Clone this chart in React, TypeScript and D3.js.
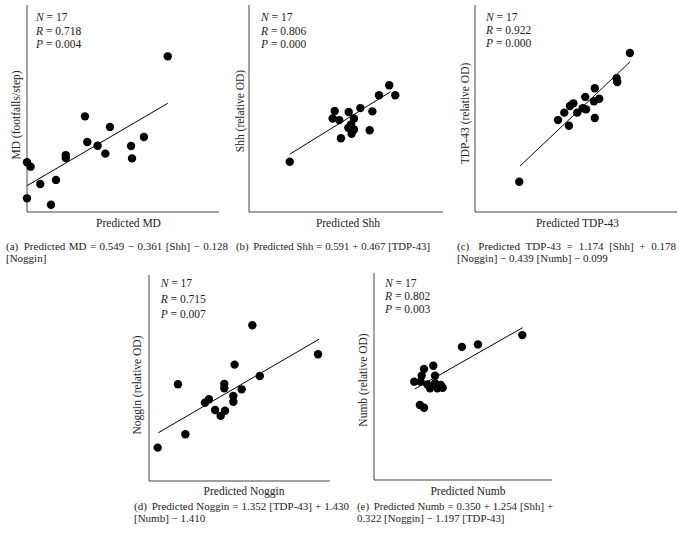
import React, { useEffect, useRef } from "react";
import * as d3 from "d3";

const W = 679;
const H = 538;
const FONT = "'Liberation Serif', 'DejaVu Serif', serif";

// ---- Panel (a): MD ----
const mdPredicted = [73.3, 30.2, 43.2, 60.9, 31.4, 36.8, 54.2, 40.8, 54.7, 20.2, 20.2, 0.0, 1.9, 15.1, 6.9, 0.0, 12.5];
const mdObserved = [75.2, 46.2, 41.1, 36.2, 33.8, 32.0, 31.9, 28.2, 25.9, 27.5, 26.1, 24.0, 21.9, 15.5, 13.5, 6.6, 3.5];
const mdFitX = [0, 73.3];
const mdFitY = [12.7, 52.5];
const mdStats = ["17", "0.718", "0.004"];

// ---- Panel (b): Shh ----
const shhPredicted = [72.3, 67.0, 75.4, 44.2, 57.4, 51.4, 63.6, 43.1, 46.5, 54.1, 52.6, 51.2, 54.1, 52.9, 62.2, 47.4, 21.0];
const shhObserved = [61.2, 56.4, 56.4, 48.8, 50.2, 48.3, 48.6, 45.2, 44.4, 45.2, 42.3, 40.7, 39.9, 37.8, 39.5, 35.6, 24.3];
const shhFitX = [21.0, 73.0];
const shhFitY = [27.9, 58.1];
const shhStats = ["17", "0.806", "0.000"];

// ---- Panel (c): TDP-43 ----
const tdpPredicted = [76.7, 70.1, 70.4, 59.3, 54.6, 61.5, 58.9, 48.7, 47.0, 44.2, 50.6, 53.3, 55.0, 41.1, 46.5, 59.3, 21.9];
const tdpObserved = [76.8, 64.6, 62.8, 59.8, 55.6, 54.7, 53.5, 52.5, 51.2, 48.0, 48.0, 50.1, 49.6, 44.4, 41.7, 45.4, 14.6];
const tdpFitX = [22.3, 76.7];
const tdpFitY = [22.2, 72.5];
const tdpStats = ["17", "0.922", "0.000"];

// ---- Panel (d): Noggin ----
const nogPredicted = [57.1, 93.4, 47.3, 61.2, 16.0, 41.6, 41.6, 51.2, 46.6, 46.6, 33.1, 30.9, 36.5, 42.0, 39.6, 20.1, 4.8];
const nogObserved = [75.6, 61.5, 56.5, 51.0, 47.0, 47.1, 45.0, 44.5, 41.3, 38.5, 39.7, 38.0, 34.5, 34.1, 31.6, 22.7, 16.2];
const nogFitX = [5.1, 93.9];
const nogFitY = [23.4, 68.8];
const nogStats = ["17", "0.715", "0.007"];

// ---- Panel (e): Numb ----
const numbPredicted = [83.3, 58.4, 49.4, 33.3, 28.1, 26.8, 34.3, 22.6, 26.2, 29.9, 34.3, 37.5, 38.6, 31.5, 35.6, 25.8, 28.1];
const numbObserved = [70.0, 65.5, 64.3, 55.2, 53.6, 50.4, 50.4, 47.5, 47.5, 46.2, 46.7, 45.9, 44.6, 44.3, 44.3, 36.2, 34.9];
const numbFitX = [23.0, 83.5];
const numbFitY = [44.0, 73.6];
const numbStats = ["17", "0.802", "0.003"];

const statNames = ["N", "R", "P"];

const yLabels = ["MD (footfalls/step)", "Shh (relative OD)", "TDP-43 (relative OD)", "Noggin (relative OD)", "Numb (relative OD)"];
const xLabels = ["Predicted MD", "Predicted Shh", "Predicted TDP-43", "Predicted Noggin", "Predicted Numb"];
const captions = [
  ["(a)  Predicted MD = 0.549 \u2212 0.361 [Shh] \u2212 0.128", "[Noggin]"],
  ["(b)  Predicted Shh = 0.591 + 0.467 [TDP-43]"],
  ["(c)  Predicted TDP-43 = 1.174 [Shh] + 0.178", "[Noggin] \u2212 0.439 [Numb] \u2212 0.099"],
  ["(d)  Predicted Noggin = 1.352 [TDP-43] + 1.430", "[Numb] \u2212 1.410"],
  ["(e)  Predicted Numb = 0.350 + 1.254 [Shh] +", "0.322 [Noggin] \u2212 1.197 [TDP-43]"],
];

const dataSets = [
  { px: mdPredicted, py: mdObserved, fx: mdFitX, fy: mdFitY, stats: mdStats },
  { px: shhPredicted, py: shhObserved, fx: shhFitX, fy: shhFitY, stats: shhStats },
  { px: tdpPredicted, py: tdpObserved, fx: tdpFitX, fy: tdpFitY, stats: tdpStats },
  { px: nogPredicted, py: nogObserved, fx: nogFitX, fy: nogFitY, stats: nogStats },
  { px: numbPredicted, py: numbObserved, fx: numbFitX, fy: numbFitY, stats: numbStats },
];

// layout (pixels)
const layouts = [
  { left: 27, right: 219, top: 5, bottom: 212, sx: 36, sy: [21, 34.5, 47.5], ylx: 20, yly: 115, xlx: 128.5, xly: 226.5, cx: 6, cw: 222, cy: [250, 262], mode: "justify" },
  { left: 249, right: 443, top: 5, bottom: 212, sx: 261, sy: [21, 34.5, 48], ylx: 244, yly: 111, xlx: 348, xly: 226.5, cx: 236, cw: 194, cy: [250], mode: "justify" },
  { left: 475, right: 677, top: 5, bottom: 212, sx: 486, sy: [20.5, 34, 47], ylx: 469, yly: 113.5, xlx: 577.5, xly: 226.5, cx: 457, cw: 219, cy: [250, 262], mode: "justify" },
  { left: 149, right: 330, top: 275, bottom: 481, sx: 160.7, sy: [287, 302.5, 317.5], ylx: 140.5, yly: 385, xlx: 244, xly: 494.5, cx: 134, cw: 215, cy: [510, 522], mode: "justify" },
  { left: 374, right: 552, top: 273, bottom: 480, sx: 385, sy: [286.5, 300, 313], ylx: 367, yly: 380, xlx: 468, xly: 494.5, cx: 357, cw: 196, cy: [510, 522], mode: "justify" },
];

export default function App() {
  const ref = useRef<SVGSVGElement | null>(null);

  useEffect(() => {
    const svg = d3.select(ref.current);
    svg.selectAll("*").remove();

    dataSets.forEach((ds, i) => {
      const L = layouts[i];
      const g = svg.append("g");
      const x = d3.scaleLinear().domain([0, 100]).range([L.left, L.right]);
      const y = d3.scaleLinear().domain([0, 100]).range([L.bottom, L.top]);

      // axes
      g.append("line")
        .attr("x1", x(0)).attr("x2", x(0)).attr("y1", y(100)).attr("y2", y(0))
        .attr("stroke", "#444").attr("stroke-width", 1);
      g.append("line")
        .attr("x1", x(0)).attr("x2", x(100)).attr("y1", y(0)).attr("y2", y(0))
        .attr("stroke", "#444").attr("stroke-width", 1);

      // fit line
      const line = d3.line<number>().x((d) => x(ds.fx[d])).y((d) => y(ds.fy[d]));
      g.append("path")
        .attr("d", line([0, 1]) as string)
        .attr("fill", "none").attr("stroke", "#000").attr("stroke-width", 1);

      // points
      g.selectAll("circle.pt")
        .data(ds.px.map((v, k) => [v, ds.py[k]]))
        .enter()
        .append("circle")
        .attr("class", "pt")
        .attr("cx", (d) => x(d[0]))
        .attr("cy", (d) => y(d[1]))
        .attr("r", 4.2)
        .attr("fill", "#000");

      // stats
      ds.stats.forEach((s, k) => {
        const t = g.append("text")
          .attr("x", L.sx).attr("y", L.sy[k])
          .attr("font-family", FONT).attr("font-size", 11.5).attr("fill", "#222");
        t.append("tspan").attr("font-style", "italic").text(statNames[k]);
        t.append("tspan").text(" = " + s);
      });

      // y label
      g.append("text")
        .attr("transform", `translate(${L.ylx},${L.yly}) rotate(-90)`)
        .attr("text-anchor", "middle")
        .attr("font-family", FONT).attr("font-size", 11.5).attr("fill", "#222")
        .text(yLabels[i]);

      // x label
      g.append("text")
        .attr("x", L.xlx).attr("y", L.xly)
        .attr("text-anchor", "middle")
        .attr("font-family", FONT).attr("font-size", 11.5).attr("fill", "#222")
        .text(xLabels[i]);

      // captions: fit font size so that line 1 fits, then justify line 1
      const first = captions[i][0];
      const probe = g.append("text")
        .attr("font-family", FONT).attr("font-size", 11)
        .attr("xml:space", "preserve")
        .text(first.replace(/\s+/g, " "));
      const natural = (probe.node() as SVGTextElement).getComputedTextLength();
      probe.remove();
      const fs = natural > L.cw * 0.985 ? (11 * L.cw * 0.985) / natural : 11;

      captions[i].forEach((lineText, k) => {
        if (k > 0) {
          g.append("text")
            .attr("x", L.cx).attr("y", L.cy[k])
            .attr("font-family", FONT).attr("font-size", fs).attr("fill", "#222")
            .text(lineText);
          return;
        }
        const words = lineText.split(/\s+/);
        const nodes = words.map((w) =>
          g.append("text")
            .attr("y", L.cy[k])
            .attr("font-family", FONT).attr("font-size", fs).attr("fill", "#222")
            .text(w)
        );
        const widths = nodes.map((n) => (n.node() as SVGTextElement).getComputedTextLength());
        const total = widths.reduce((a, b) => a + b, 0);
        const weights = words.slice(1).map((_, j) => (j === 0 ? 1.6 : 1));
        const wsum = weights.reduce((a, b) => a + b, 0);
        const unit = (L.cw - total) / wsum;
        let cur = L.cx;
        nodes.forEach((n, j) => {
          n.attr("x", cur);
          cur += widths[j] + (j < weights.length ? weights[j] * unit : 0);
        });
      });
    });
  }, []);

  return (
    <svg
      ref={ref}
      width={W}
      height={H}
      viewBox={`0 0 ${W} ${H}`}
      style={{ position: "absolute", left: 0, top: 0, background: "#fff" }}
    />
  );
}
